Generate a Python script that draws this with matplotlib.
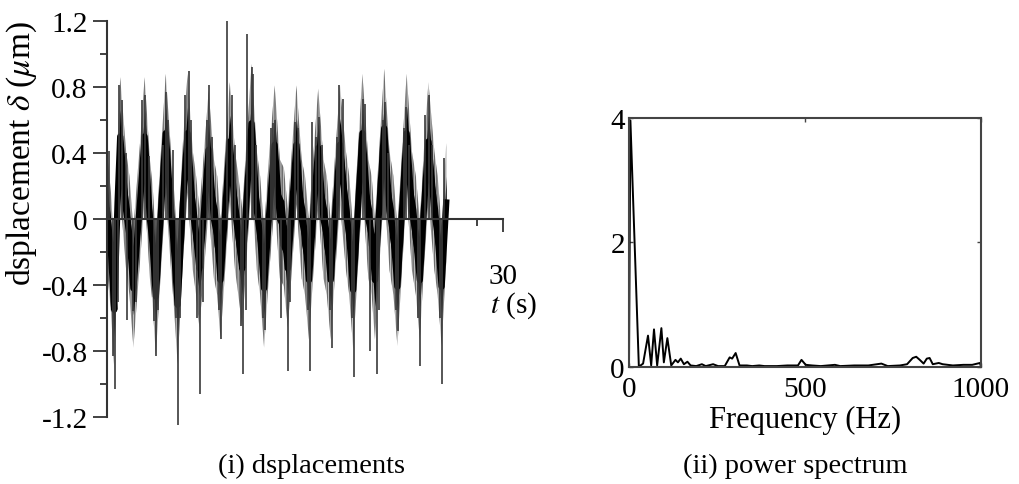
import numpy as np
import matplotlib
matplotlib.use('Agg')
import matplotlib.pyplot as plt
from matplotlib.ticker import FixedLocator, MultipleLocator

plt.rcParams['font.family'] = ['Liberation Serif', 'DejaVu Serif']
plt.rcParams['mathtext.fontset'] = 'stix'
plt.rcParams['hatch.linewidth'] = 1.2

# ---------------- data: (i) displacement signal ----------------
# slow oscillation of the dark core of the trace (s, um)
core_t = [0.0, 0.3, 0.55, 0.8, 1.0, 1.45, 1.7, 2.0, 2.35, 2.55, 2.85, 3.25,
          3.45, 3.7, 4.05, 4.45, 4.85, 5.05, 5.35, 5.75, 6.1, 6.5, 6.75, 7.0,
          7.35, 7.7, 8.1, 8.35, 8.6, 8.95, 9.3, 9.7, 9.95, 10.25, 10.6, 10.95,
          11.35, 11.6, 11.9, 12.3, 12.7, 13.1, 13.4, 13.7, 14.0, 14.35, 14.75,
          15.0, 15.3, 15.65, 16.0, 16.4, 16.65, 16.95, 17.3, 17.65, 18.1,
          18.35, 18.65, 19.0, 19.35, 19.8, 20.05, 20.3, 20.65, 21.0, 21.4,
          21.7, 22.0, 22.35, 22.7, 23.1, 23.4, 23.7, 24.0, 24.35, 24.8, 25.05,
          25.35, 25.7]
core_v = [0.05, -0.2, -0.55, 0.1, 0.5, 0.05, -0.1, -0.42, -0.05, 0.15, 0.5,
          0.0, -0.15, -0.47, 0.0, 0.52, 0.05, -0.15, -0.52, 0.1, 0.52, 0.05,
          -0.1, -0.3, 0.05, 0.42, 0.0, -0.1, -0.37, 0.05, 0.47, 0.05, -0.1,
          -0.3, 0.15, 0.58, 0.05, -0.1, -0.42, 0.05, 0.45, 0.0, -0.05, -0.3,
          0.05, 0.45, 0.0, -0.1, -0.37, 0.05, 0.43, 0.0, -0.1, -0.37, 0.05,
          0.45, 0.05, -0.1, -0.43, 0.05, 0.52, 0.0, -0.1, -0.37, 0.1, 0.55,
          0.05, -0.1, -0.41, 0.05, 0.52, 0.05, -0.1, -0.37, 0.05, 0.47, 0.05,
          -0.1, -0.41, 0.1]

# isolated spikes of the trace (s, um)
spike_t = [0.15, 0.91, 1.15, 1.45, 2.65, 2.88, 3.15, 4.25, 4.47, 4.65, 5.0,
           5.9, 6.21, 6.4, 7.55, 7.73, 7.95, 9.09, 9.45, 9.7, 10.6, 10.98,
           11.06, 11.3, 12.45, 12.58, 12.73, 14.24, 14.45, 15.53, 15.8, 16.06,
           16.3, 17.45, 17.58, 17.88, 19.39, 19.55, 20.9, 21.06, 21.3, 22.5,
           22.65, 22.9, 24.09, 24.39, 24.6, 25.53,
           0.48, 0.61, 0.8, 1.52, 1.97, 2.2, 3.55, 3.71, 3.9, 5.2, 5.38, 5.55,
           6.85, 7.05, 7.25, 8.5, 8.64, 10.15, 10.3, 10.5, 11.8, 11.97, 13.2,
           13.71, 13.9, 15.2, 15.38, 16.9, 17.05, 18.55, 18.71, 19.92, 20.45,
           20.6, 21.9, 22.05, 23.55, 23.71, 25.2, 25.38]
spike_v = [0.41, 0.81, 0.72, 0.4, 0.72, 0.75, 0.38, 0.45, 0.77, 0.6, 0.42,
           0.75, 0.9, 0.6, 0.6, 0.81, 0.5, 1.2, 0.75, 0.45, 1.12, 0.92,
           0.88, 0.45, 0.55, 0.58, 0.6, 0.59, 0.55, 0.59, 0.5, 0.62,
           0.45, 0.5, 0.81, 0.73, 0.73, 0.7, 0.6, 0.71, 0.4, 0.55,
           0.68, 0.45, 0.63, 0.75, 0.45, 0.37,
           -0.83, -1.03, -0.5, -0.61, -0.56, -0.5, -0.62, -0.83, -0.55, -0.6,
           -1.25, -0.6, -0.6, -1.06, -0.5, -0.55, -0.73, -0.65, -0.94, -0.55,
           -0.6, -0.67, -0.6, -0.92, -0.5, -0.55, -0.92, -0.55, -0.78, -0.6,
           -0.96, -0.8, -0.94, -0.55, -0.55, -0.68, -0.6, -0.89, -0.6, -1.0]

y_ticks = [-1.2, -0.8, -0.4, 0, 0.4, 0.8, 1.2]
y_tick_labels = ['-1.2', '-0.8', '-0.4', '0', '0.4', '0.8', '1.2']
x_ticks = [30]
x_tick_labels = ['30']

# ---------------- data: (ii) power spectrum ----------------
freq = [0, 4, 28, 40, 54, 63, 71, 80, 92, 99, 109, 120, 132, 139, 147, 156,
        166, 175, 191, 207, 218, 239, 253, 272, 286, 293, 303, 314, 335, 350,
        370, 385, 420, 450, 480, 490, 502, 520, 545, 585, 600, 640, 680, 717,
        735, 770, 790, 806, 816, 826, 837, 846, 854, 863, 880, 891, 920, 950,
        975, 997, 1000]
power = [0.0, 3.96, 0.0, 0.05, 0.5, 0.02, 0.6, 0.02, 0.62, 0.07, 0.46, 0.02,
         0.11, 0.07, 0.13, 0.04, 0.08, 0.02, 0.01, 0.04, 0.01, 0.04, 0.01,
         0.01, 0.15, 0.13, 0.22, 0.02, 0.02, 0.01, 0.02, 0.01, 0.01, 0.02,
         0.02, 0.11, 0.03, 0.02, 0.01, 0.03, 0.01, 0.02, 0.02, 0.05, 0.01,
         0.02, 0.04, 0.14, 0.16, 0.11, 0.05, 0.13, 0.14, 0.04, 0.06, 0.04,
         0.02, 0.03, 0.03, 0.06, 0.0]
spec_x_ticks = [0, 500, 1000]
spec_y_ticks = [0, 2, 4]

W, H = 1020, 485
fig = plt.figure(figsize=(W / 100, H / 100), dpi=100)
FS_TICK = 21
FS_LAB = 22
FS_CAP = 20.5
AX_COL = '#333333'

# ---------- left panel ----------
ax1 = fig.add_axes([107 / W, 1 - 418 / H, (503 - 107) / W, (418 - 22) / H])
ct = np.array(core_t)
cv = np.array(core_v)
ax1.fill_between(ct, cv - 0.36, cv + 0.36, facecolor='#e2e2e2', edgecolor='#6e6e6e',
                 hatch='|||||||', linewidth=0, zorder=1)
ax1.fill_between(ct, cv - 0.16, cv + 0.16, color='black', linewidth=0, zorder=1.5)
ax1.plot(ct, cv, color='black', lw=4.5, zorder=1.6)
ax1.vlines(spike_t, 0, spike_v, color='#3a3a3a', lw=1.2, zorder=1.7, clip_on=False)

ax1.set_xlim(0, 30)
ax1.set_ylim(-1.2, 1.2)
for s in ['top', 'right']:
    ax1.spines[s].set_visible(False)
ax1.spines['bottom'].set_position(('data', 0))
for s in ['left', 'bottom']:
    ax1.spines[s].set_color(AX_COL)
    ax1.spines[s].set_linewidth(1.5)
    ax1.spines[s].set_zorder(5)

ax1.yaxis.set_major_locator(FixedLocator(y_ticks))
ax1.set_yticklabels(y_tick_labels)
ax1.yaxis.set_minor_locator(MultipleLocator(0.2))
ax1.xaxis.set_major_locator(FixedLocator(x_ticks))
ax1.set_xticklabels(x_tick_labels)
ax1.xaxis.set_minor_locator(FixedLocator([28]))
ax1.tick_params(axis='y', which='major', direction='out', length=10, width=1.3,
                color=AX_COL, labelsize=FS_TICK, pad=4)
ax1.tick_params(axis='y', which='minor', direction='out', length=5, width=1.3,
                color=AX_COL)
ax1.tick_params(axis='x', which='major', direction='out', length=9, width=1.3,
                color=AX_COL, labelsize=FS_TICK, pad=23)
ax1.tick_params(axis='x', which='minor', direction='out', length=5, width=1.3,
                color=AX_COL)

fig.text(513 / W, 1 - 306 / H, r'$t$ (s)', ha='center', va='center', fontsize=FS_TICK)
fig.text(22 / W, 1 - 153 / H, r'dsplacement $\delta$ ($\mu$m)', rotation=90,
         ha='center', va='center', fontsize=24)
fig.text(312 / W, 1 - 466 / H, '(i) dsplacements', ha='center', va='center',
         fontsize=FS_CAP)

# ---------- right panel ----------
ax2 = fig.add_axes([629 / W, 1 - 367.7 / H, (981 - 629) / W, (367.7 - 119) / H])
ax2.plot(freq, power, color='black', lw=1.4)
ax2.set_xlim(0, 1000)
ax2.set_ylim(0, 4)
for s in ax2.spines.values():
    s.set_color('#444444')
    s.set_linewidth(1.5)
ax2.xaxis.set_major_locator(FixedLocator(spec_x_ticks))
ax2.yaxis.set_major_locator(FixedLocator(spec_y_ticks))
ax2.tick_params(direction='in', length=3, width=1.0, color='#444444',
                top=True, right=True, labelsize=FS_TICK)
ax2.tick_params(axis='x', pad=7)
ax2.tick_params(axis='y', pad=3)
ax2.set_xlabel('Frequency (Hz)', fontsize=FS_LAB, labelpad=2)
fig.text(795 / W, 1 - 466 / H, '(ii) power spectrum', ha='center', va='center',
         fontsize=FS_CAP)

fig.savefig('out.png', dpi=100)
